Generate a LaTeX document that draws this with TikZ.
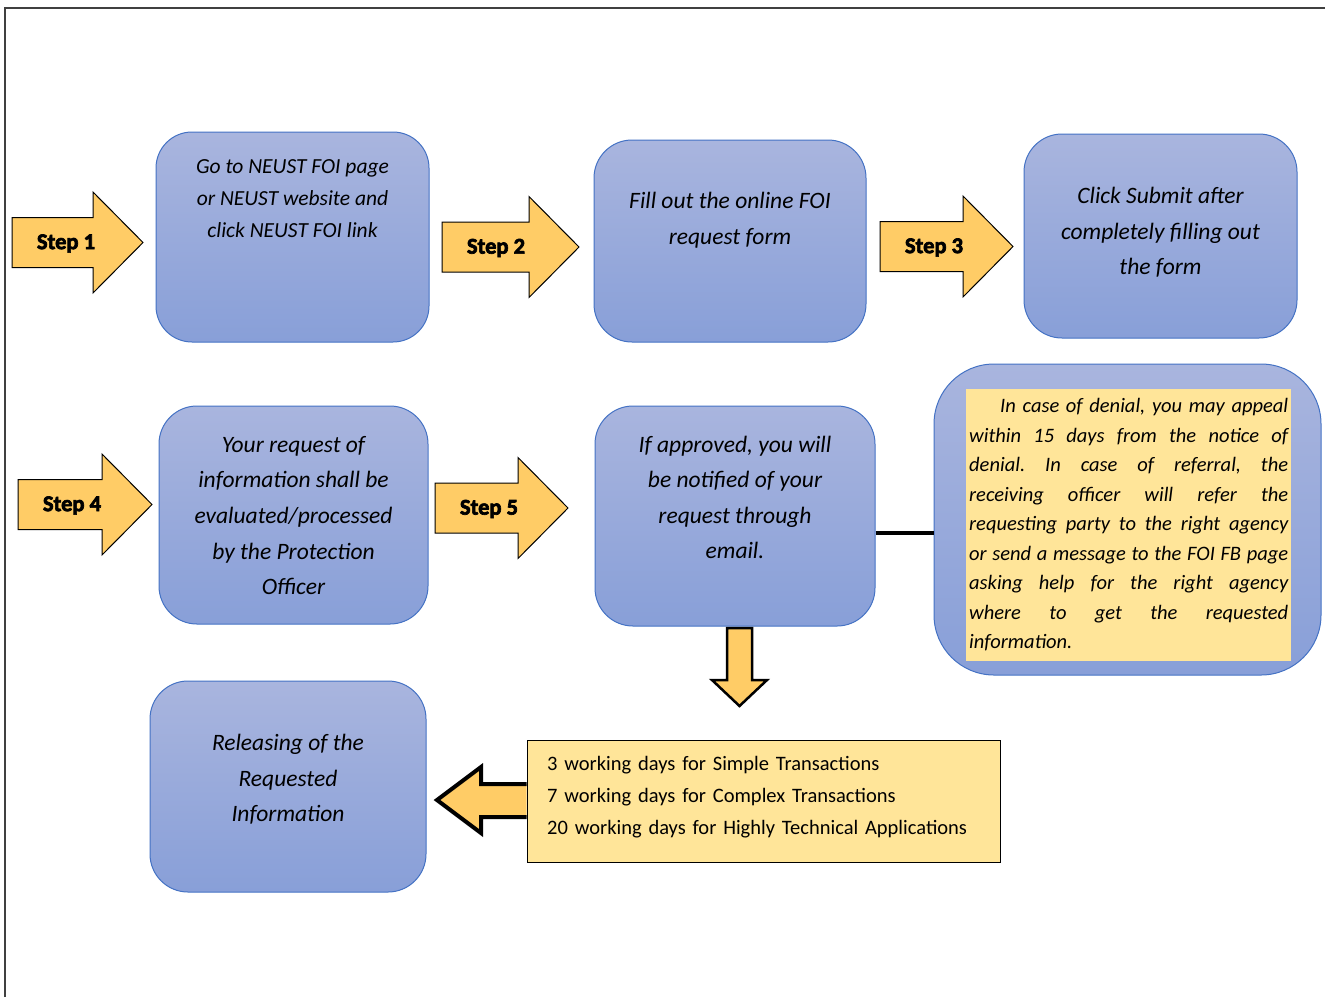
\documentclass[tikz,border=0pt]{standalone}
\usepackage{fontspec}
\setmainfont{Carlito}
\newfontfamily\stepfont{Carlito}[BoldFeatures={FakeBold=3}]
\usetikzlibrary{calc}
\definecolor{boxtop}{RGB}{169,181,222}
\definecolor{boxbot}{RGB}{136,159,216}
\definecolor{boxline}{RGB}{68,114,196}
\definecolor{arrowyellow}{RGB}{255,204,102}
\definecolor{noteyellow}{RGB}{255,229,153}
\tikzset{
	stepbox/.style={draw=boxline, line width=1pt, top color=boxtop, bottom color=boxbot, inner sep=0pt},
	boxtext/.style={align=center, inner sep=0pt, font=\fontsize{23.5}{35.6}\selectfont\itshape},
	steplabel/.style={inner sep=0pt, font=\fontsize{22.5}{24}\selectfont\stepfont\bfseries},
	arrowfill/.style={draw=black, fill=arrowyellow, line width=1pt, line join=miter},
	link/.style={draw=black, line width=3.5pt},
	frame/.style={draw=black!75, line width=1.5pt}
}
% yellow block arrow with its label: (tail x, centre y)[shaft length]{name}{text}
\def\steparrow(#1,#2)[#3]#4#5{\draw[arrowfill] (#1,#2-25) -- (#1+#3,#2-25) -- (#1+#3,#2-50.5) -- (#1+#3+50,#2) -- (#1+#3,#2+50.5) -- (#1+#3,#2+25) -- (#1,#2+25) -- cycle;
	\node[steplabel] (#4) at (#1+54,#2+1) {#5};}

\begin{document}
\begin{tikzpicture}[x=1pt,y=-1pt]
	%%%%% START %%%%%
	\useasboundingbox (0,0) rectangle (1325,997);
	\draw[frame] (5,997) -- (5,8) -- (1325,8);
	
	% first row
	\steparrow(12,242.5)[81]{s1}{Step 1}
	\node[stepbox, rounded corners=36pt, minimum width=273pt, minimum height=210pt] (box1) at (292.5,237) {};
	\node[boxtext, font=\fontsize{21.5}{32}\selectfont\itshape] (go) at (292.5,199) {Go to NEUST FOI page\\or NEUST website and\\click NEUST FOI link};
	
	\steparrow(442,247)[87]{s2}{Step 2}
	\node[stepbox, rounded corners=38pt, minimum width=272pt, minimum height=202pt] (box2) at (730,241) {};
	\node[boxtext] (fill) at (730,220.5) {Fill out the online FOI\\request form};
	
	\steparrow(880,246.5)[83]{s3}{Step 3}
	\node[stepbox, rounded corners=38pt, minimum width=273pt, minimum height=204pt] (box3) at (1160.5,236) {};
	\node[boxtext] (submit) at (1160.5,232.5) {Click Submit after\\completely filling out\\the form};
	
	% second row
	\steparrow(18,504.5)[84]{s4}{Step 4}
	\node[stepbox, rounded corners=38pt, minimum width=269pt, minimum height=218pt] (box4) at (293.5,515) {};
	\node[boxtext] (eval) at (293.5,515.5) {Your request of\\information shall be\\evaluated/processed\\by the Protection\\Officer};
	
	\steparrow(435,508)[83]{s5}{Step 5}
	\node[stepbox, rounded corners=38pt, minimum width=280pt, minimum height=220pt] (box5) at (735,516) {};
	\node[boxtext] (notify) at (735,497.5) {If approved, you will\\be notified of your\\request through\\email.};
	
	\node[stepbox, rounded corners=60pt, minimum width=387pt, minimum height=311pt] (box6) at (1127.5,519.5) {};
	\node[anchor=north west, fill=noteyellow, inner sep=3pt, text width=319pt, align=justify, font=\fontsize{20.5}{29.5}\selectfont\itshape] (denial) at (966,389) {\frenchspacing\spaceskip=0.22em plus 3em minus 0.12em\strut\hspace*{31pt}In case of denial, you may appeal\linebreak within 15 days from the notice of\linebreak denial. In case of referral, the\linebreak receiving officer will refer the\linebreak requesting party to the right agency\linebreak or send a message to the FOI FB page\linebreak asking help for the right agency\linebreak where to get the requested\linebreak information.\strut};
	
	\coordinate (lk) at ([yshift=-17pt]box5.east);
	\draw[link] (lk) -- (lk -| box6.west);
	
	% third row
	\draw[arrowfill, line width=2.5pt] (727,628) -- (752,628) -- (752,680) -- (767,680) -- (739.5,706) -- (712,680) -- (727,680) -- cycle;
	\node[draw=black, line width=1pt, fill=noteyellow, minimum width=473pt, minimum height=122pt] (days) at (763.5,801) {};
	\node[anchor=west, text width=433pt, inner sep=0pt, align=left, font=\fontsize{20.5}{32}\selectfont] (daystext) at (547,797) {3 working days for Simple Transactions\\7 working days for Complex Transactions\\20 working days for Highly Technical Applications};
	\draw[arrowfill, line width=4pt] (days.west |- 0,784) -- (481,784) -- (481,767) -- (437,800) -- (481,833) -- (481,817) -- (days.west |- 0,817);
	
	\node[stepbox, rounded corners=38pt, minimum width=276pt, minimum height=211pt] (box7) at (288,786.5) {};
	\node[boxtext] (release) at (288,779.5) {Releasing of the\\Requested\\Information};
	
	%%%%% END %%%%%
\end{tikzpicture}
\end{document}
